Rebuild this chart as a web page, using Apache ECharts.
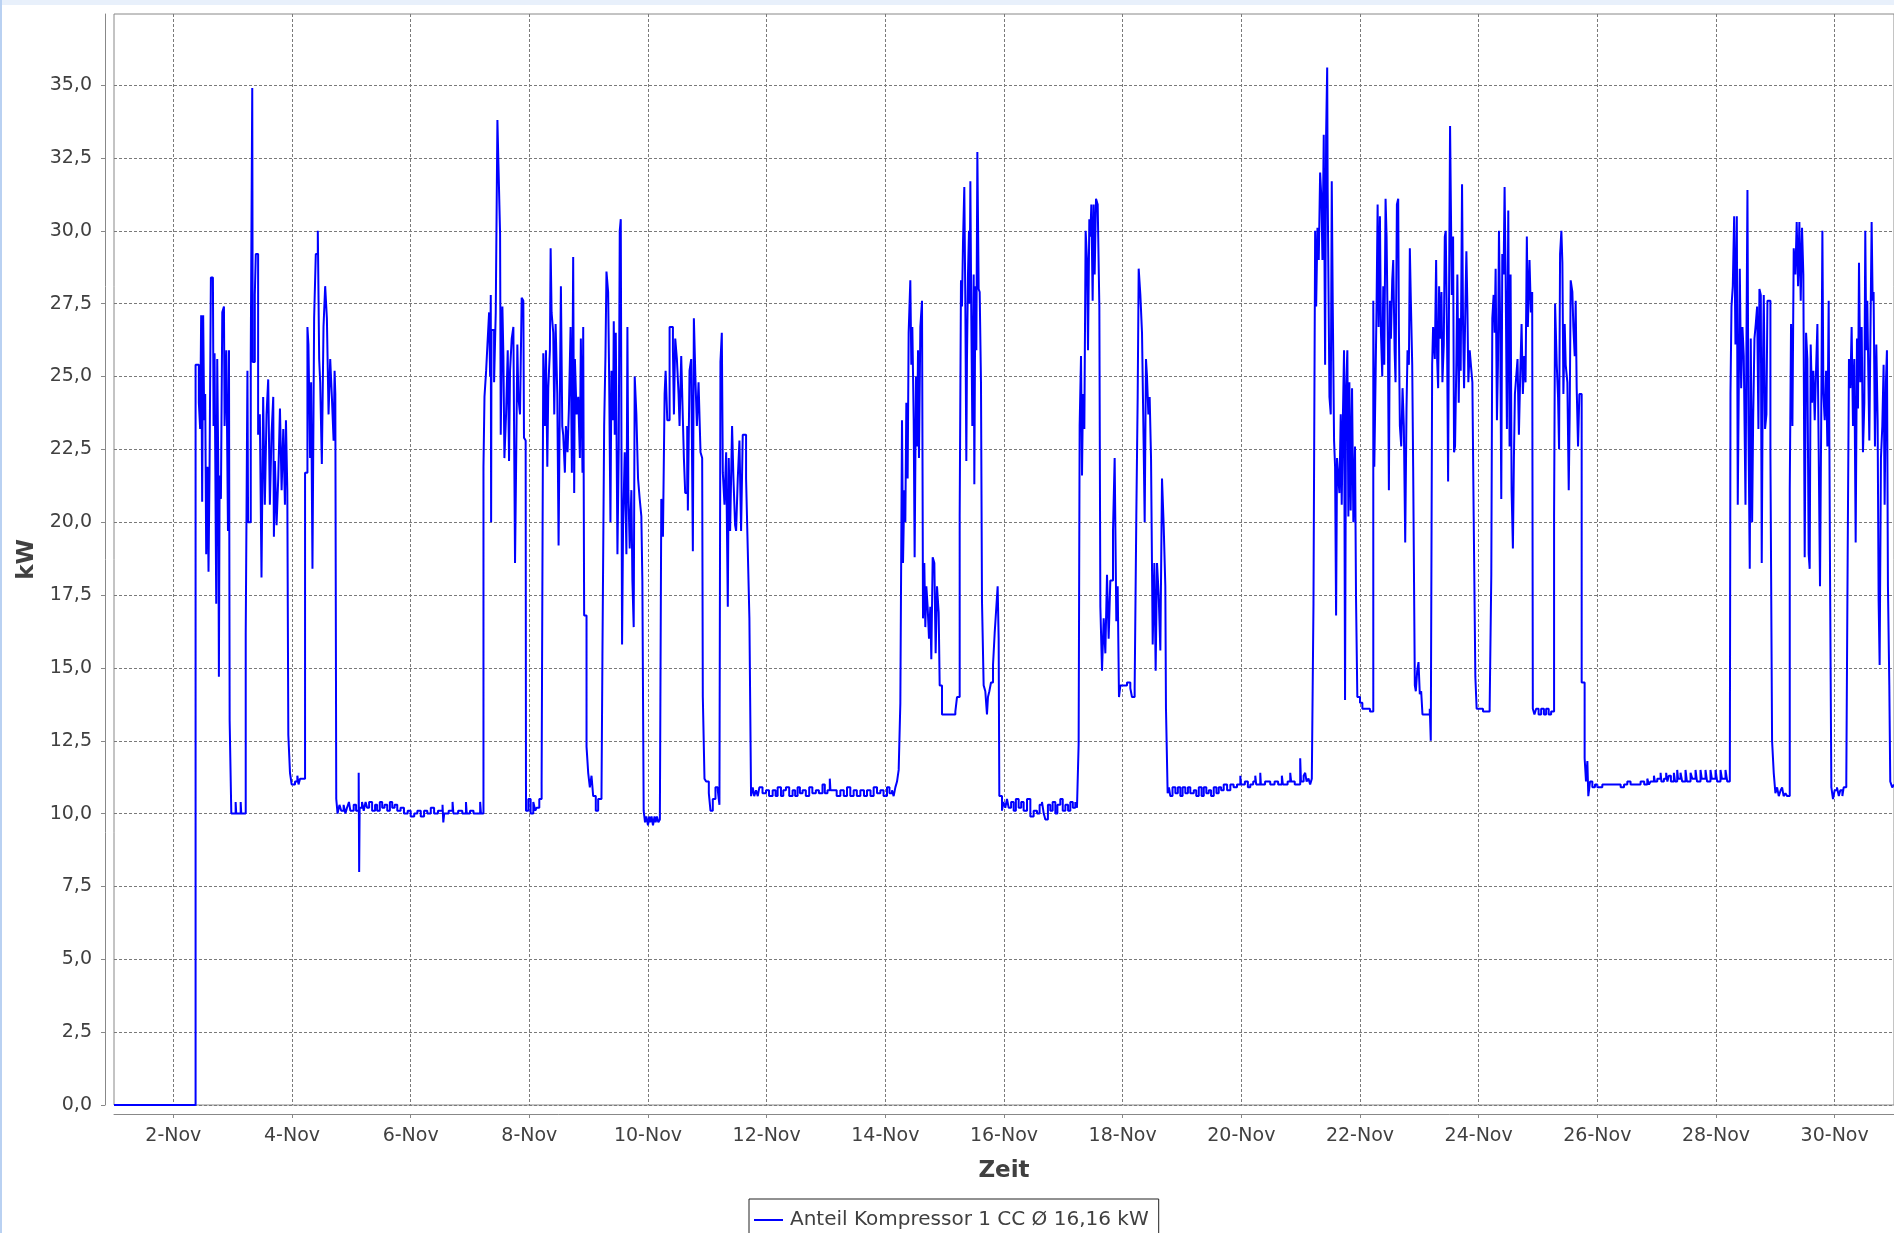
<!DOCTYPE html>
<html><head><meta charset="utf-8">
<script src="https://cdn.jsdelivr.net/npm/echarts@6/dist/echarts.min.js"></script>
<style>
html,body{margin:0;padding:0;background:#fff;overflow:hidden}
#chart{position:absolute;left:0;top:0;width:1894px;height:1233px}
#topband{position:absolute;left:0;top:0;width:1894px;height:5px;background:#e8f0fb}
#leftband{position:absolute;left:0;top:0;width:2px;height:1233px;background:#b9d1f2}
</style></head><body>
<div id="chart"></div>
<div id="topband"></div><div id="leftband"></div>
<script>
// x = day of November (fractional), y = kW
const dayTicks = [2,4,6,8,10,12,14,16,18,20,22,24,26,28,30];
const kwTicks = [0,2.5,5,7.5,10,12.5,15,17.5,20,22.5,25,27.5,30,32.5,35];
const seriesName = 'Anteil Kompressor 1 CC Ø 16,16 kW';

const week1 = [[1.000,0],[2.375,25.4],[2.430,24.1],[2.452,23.2],[2.469,27.1],[2.486,20.7],[2.503,27.1],[2.520,23.5],[2.537,24.4],[2.554,18.9],[2.576,21.9],[2.593,18.3],[2.610,21.7],[2.633,28.4],[2.667,28.4],[2.678,23.3],[2.695,25.8],[2.723,17.2],[2.740,25.6],[2.757,22.0],[2.768,14.7],[2.780,21.6],[2.802,20.8],[2.825,27.2],[2.853,27.4],[2.864,23.3],[2.893,25.9],[2.921,19.7],[2.938,25.9],[2.949,13.2],[2.977,10.0],[3.050,10.4],[3.060,10.0],[3.135,10.4],[3.145,10.0],
[3.220,16.2],[3.249,25.2],[3.260,20.0],[3.305,25.8],[3.330,34.9],[3.338,25.5],[3.373,27.8],[3.390,29.2],[3.429,23.0],[3.458,23.7],[3.486,18.1],[3.514,24.3],[3.542,20.6],[3.571,23.7],[3.599,24.9],[3.627,20.6],[3.655,23.0],[3.684,24.3],[3.695,19.5],[3.712,22.1],[3.740,19.9],[3.768,21.5],[3.797,23.9],[3.825,21.1],[3.853,23.2],[3.881,20.6],[3.898,23.5],[3.921,21.1],[3.938,12.7],[3.966,11.4],[3.994,11.0],[4.051,11.1],[4.090,11.3],[4.110,11.0],[4.136,11.2],[4.181,11.2],
[4.220,21.7],[4.260,26.7],[4.277,26.1],[4.305,22.2],[4.322,24.8],[4.345,18.4],[4.373,27.0],[4.401,29.2],[4.435,30.0],[4.458,25.6],[4.475,24.8],[4.503,22.0],[4.531,26.7],[4.559,28.1],[4.588,27.0],[4.616,23.7],[4.644,25.6],[4.672,24.3],[4.701,22.8],[4.718,25.2],[4.730,24.4],[4.746,10.5],[4.768,10.0],[4.800,10.3],[4.830,10.1],[4.870,10.3],[4.900,10.0],[4.927,10.2],[4.960,10.4],[4.983,10.1],[5.040,10.3],[5.080,10.1],[5.124,11.4],[5.132,8.0],[5.140,10.2],[5.180,10.4],[5.209,10.1],[5.240,10.4],[5.266,10.2],[5.300,10.4],[5.350,10.1],[5.400,10.3],[5.435,10.1],[5.480,10.4],[5.520,10.2],[5.560,10.3],[5.605,10.1],[5.650,10.4],[5.689,10.2],[5.730,10.3],[5.774,10.1],[5.830,10.2],[5.887,10.0],[5.950,10.1],[6.000,9.9],[6.060,10.0],[6.113,10.1],[6.170,9.9],[6.226,10.1],[6.280,10.0],[6.339,10.2],[6.395,10.0],[6.460,10.1],[6.537,10.3],[6.550,9.7],[6.565,10.0],[6.640,10.1],[6.706,10.4],[6.720,10.0],[6.800,10.1],[6.870,10.0],[6.932,10.4],[6.945,10.0],[7.000,10.1]];

const week2 = [[7.059,10.0],[7.171,10.4],[7.185,10.0],[7.227,21.9],[7.244,24.3],[7.272,25.2],[7.294,26.1],[7.322,27.2],[7.339,25.0],[7.350,27.8],[7.356,20.0],[7.362,26.6],[7.406,24.8],[7.434,27.2],[7.462,33.8],[7.479,32.3],[7.507,29.9],[7.518,23.0],[7.546,27.4],[7.563,25.7],[7.580,22.2],[7.608,23.7],[7.636,25.9],[7.658,22.1],[7.675,25.2],[7.703,26.3],[7.731,26.7],[7.759,18.6],[7.776,21.7],[7.798,26.1],[7.815,24.3],[7.843,23.7],[7.871,27.7],[7.899,27.6],[7.910,22.9],[7.938,22.8],[7.944,10.1],[7.983,10.5],[8.022,10.0],[8.067,10.4],[8.100,10.1],[8.123,10.2],[8.168,10.5],[8.207,11.0],
[8.235,25.8],[8.263,23.3],[8.280,25.9],[8.303,21.9],[8.319,24.6],[8.347,25.9],[8.359,29.4],[8.375,27.2],[8.403,26.5],[8.420,23.7],[8.443,26.8],[8.471,24.4],[8.493,19.2],[8.515,24.4],[8.532,28.1],[8.555,23.3],[8.571,23.0],[8.599,21.7],[8.616,23.3],[8.644,22.4],[8.667,23.9],[8.695,26.7],[8.717,21.7],[8.739,29.1],[8.756,21.0],[8.768,25.6],[8.796,23.7],[8.824,24.3],[8.852,22.2],[8.868,26.3],[8.896,21.7],[8.908,26.7],[8.924,16.8],[8.964,12.3],[8.992,11.4],[9.020,10.9],[9.048,11.3],[9.076,10.6],[9.120,10.1],[9.160,10.5],[9.216,10.6],
[9.232,15.4],[9.261,23.3],[9.283,25.7],[9.300,28.6],[9.328,27.9],[9.345,25.0],[9.367,20.0],[9.384,25.2],[9.412,23.5],[9.423,26.9],[9.440,23.0],[9.457,26.5],[9.485,18.9],[9.507,22.6],[9.524,30.0],[9.541,30.4],[9.563,15.8],[9.580,19.9],[9.608,22.4],[9.636,18.9],[9.653,26.7],[9.669,21.1],[9.692,19.1],[9.720,21.1],[9.737,18.0],[9.759,16.4],[9.776,25.0],[9.804,23.7],[9.832,21.5],[9.860,20.8],[9.888,20.2],[9.905,18.0],[9.927,10.1],[9.950,9.7],[9.972,9.9],[10.000,9.6],[10.020,9.9],[10.039,9.7],[10.060,9.9],[10.084,9.6],[10.110,9.9],[10.129,9.7],[10.150,9.9],[10.174,9.7],[10.200,9.8],
[10.224,20.8],[10.252,19.5],[10.280,24.4],[10.297,25.2],[10.325,23.5],[10.364,26.7],[10.392,26.7],[10.420,25.9],[10.437,23.7],[10.459,26.3],[10.487,25.6],[10.515,24.4],[10.532,23.3],[10.560,25.7],[10.588,23.5],[10.605,22.2],[10.627,21.0],[10.661,23.3],[10.672,20.4],[10.700,25.2],[10.728,25.6],[10.756,19.0],[10.773,27.0],[10.801,24.8],[10.824,23.3],[10.852,24.8],[10.885,22.4],[10.913,22.2],[10.924,14.0],[10.952,11.2],[10.980,11.1],[11.025,10.7],[11.053,10.1],[11.092,10.5],[11.137,10.9],[11.176,10.8],[11.204,10.3],
[11.221,25.5],[11.244,26.5],[11.261,21.7],[11.289,20.6],[11.317,22.4],[11.345,17.1],[11.361,22.2],[11.384,19.7],[11.417,23.3],[11.440,21.5],[11.468,19.9],[11.485,19.7],[11.513,21.5],[11.541,22.8],[11.569,19.7],[11.597,23.0],[11.625,23.0],[11.653,21.5],[11.681,19.1],[11.709,16.7],[11.737,10.6],[11.765,10.9],[11.790,10.6],[11.821,10.8],[11.850,10.6],[11.877,10.9],[11.930,10.7],[11.989,10.8],[12.040,10.6],[12.101,10.8],[12.150,10.6],[12.185,10.9],[12.241,10.6],[12.280,10.8],[12.325,10.9],[12.380,10.6],[12.437,10.8],[12.480,10.6],[12.521,10.9],[12.560,10.7],[12.605,10.8],[12.660,10.6],[12.717,10.9],[12.770,10.7],[12.829,10.8],[12.880,10.7],[12.941,11.0],[12.980,10.7],[13.025,10.8],[13.064,11.2],[13.075,10.8]];

const week3 = [[13.129,10.8],[13.180,10.6],[13.242,10.8],[13.300,10.6],[13.354,10.9],[13.410,10.6],[13.466,10.8],[13.520,10.6],[13.579,10.8],[13.640,10.6],[13.691,10.8],[13.750,10.6],[13.803,10.9],[13.860,10.7],[13.916,10.8],[13.970,10.6],[14.028,10.9],[14.070,10.7],[14.112,10.8],[14.140,10.6],[14.169,10.9],
[14.197,11.1],[14.225,11.5],[14.253,13.8],[14.281,23.5],[14.298,18.6],[14.320,21.1],[14.337,20.0],[14.354,24.1],[14.376,21.5],[14.393,26.5],[14.421,28.3],[14.438,25.4],[14.455,26.7],[14.478,23.5],[14.494,18.8],[14.517,25.0],[14.534,22.6],[14.551,25.9],[14.567,22.2],[14.590,26.7],[14.618,27.6],[14.635,16.7],[14.657,18.6],[14.674,16.4],[14.691,17.8],[14.713,17.1],[14.736,16.0],[14.758,17.1],[14.775,15.3],[14.798,18.8],[14.826,18.6],[14.848,15.5],[14.871,17.8],[14.899,16.9],[14.916,14.4],[14.955,13.4],[15.067,13.4],[15.180,13.5],[15.208,14.0],
[15.253,20.2],[15.275,28.3],[15.292,27.4],[15.309,29.6],[15.331,31.5],[15.348,27.6],[15.365,22.1],[15.376,25.6],[15.393,28.5],[15.410,30.0],[15.421,27.5],[15.433,31.7],[15.449,27.0],[15.466,23.3],[15.489,28.5],[15.500,21.3],[15.517,28.1],[15.534,25.9],[15.551,32.7],[15.573,28.0],[15.590,27.9],[15.612,24.8],[15.629,17.3],[15.657,14.4],[15.685,14.2],[15.713,13.4],[15.730,14.0],[15.753,14.2],[15.781,14.5],[15.815,15.1],[15.843,16.2],[15.865,16.9],[15.893,17.8],[15.910,16.0],[15.921,10.6],
[15.966,10.1],[15.990,10.4],[16.022,10.2],[16.050,10.5],[16.079,10.2],[16.120,10.4],[16.163,10.1],[16.200,10.5],[16.247,10.2],[16.290,10.4],[16.331,10.1],[16.388,10.5],[16.444,9.9],[16.500,10.1],[16.556,10.0],[16.600,10.3],[16.640,10.4],[16.670,10.0],[16.697,9.8],[16.740,10.3],[16.781,10.1],[16.820,10.4],[16.865,10.0],[16.900,10.3],[16.949,10.5],[16.990,10.1],[17.034,10.3],[17.080,10.1],[17.118,10.4],[17.160,10.2],[17.202,10.4],[17.230,10.2],
[17.258,12.4],[17.275,23.3],[17.298,25.7],[17.315,21.6],[17.331,24.4],[17.354,23.2],[17.376,30.0],[17.399,29.0],[17.416,25.9],[17.438,30.4],[17.455,29.8],[17.472,30.9],[17.494,27.6],[17.511,30.9],[17.528,28.5],[17.551,31.1],[17.579,30.9],[17.607,27.4],[17.624,17.1],[17.652,14.9],[17.680,16.7],[17.708,15.5],[17.736,18.2],[17.764,16.0],[17.792,18.0],[17.837,19.7],[17.865,22.2],[17.893,16.6],[17.916,17.8],[17.938,14.0],[17.961,14.4],[18.017,14.4],[18.073,14.5],[18.129,14.3],[18.157,14.0],[18.202,14.3],
[18.230,20.2],[18.253,24.3],[18.270,28.7],[18.298,27.8],[18.326,26.5],[18.354,22.6],[18.371,20.0],[18.393,25.6],[18.410,25.0],[18.433,23.7],[18.455,24.3],[18.478,22.2],[18.506,15.8],[18.534,18.6],[18.556,14.9],[18.579,18.6],[18.607,17.5],[18.635,15.6],[18.663,21.5],[18.691,19.9],[18.719,17.8],[18.730,13.6],[18.758,10.7],[18.780,10.9],[18.803,10.6],[18.840,10.9],[18.888,10.7],[18.930,10.9],[18.972,10.6],[19.010,10.9],[19.056,10.7],[19.100,10.9],[19.140,10.7]];

const week4 = [[19.199,10.8],[19.240,10.6],[19.283,10.9],[19.330,10.6],[19.367,10.9],[19.410,10.7],[19.451,10.8],[19.490,10.6],[19.535,10.9],[19.580,10.7],[19.619,10.9],[19.660,10.8],[19.703,11.0],[19.760,10.8],[19.815,11.0],[19.870,10.9],[19.927,11.0],[19.983,11.3],[19.995,11.0],[20.060,11.1],[20.110,10.9],[20.151,11.0],[20.200,11.1],[20.235,11.3],[20.250,11.0],[20.319,11.4],[20.330,11.0],[20.400,11.1],[20.487,11.0],[20.560,11.1],[20.620,11.0],[20.683,11.3],[20.700,11.0],[20.780,11.1],[20.824,11.4],[20.840,11.1],[20.900,11.0],[20.992,11.9],[21.005,11.1],[21.050,11.3],[21.076,11.4],[21.100,11.1],[21.132,11.2],[21.160,11.0],[21.188,11.2],
[21.216,17.2],[21.244,30.0],[21.261,27.4],[21.283,30.1],[21.305,29.0],[21.328,32.0],[21.350,31.1],[21.367,29.0],[21.389,33.3],[21.412,25.4],[21.429,33.3],[21.447,35.6],[21.455,31.4],[21.485,24.3],[21.507,23.7],[21.524,31.7],[21.541,27.4],[21.563,22.8],[21.580,21.9],[21.597,16.8],[21.613,22.2],[21.636,21.5],[21.653,21.0],[21.675,23.7],[21.692,20.6],[21.709,23.3],[21.731,25.9],[21.748,13.9],[21.765,24.6],[21.787,25.9],[21.804,20.2],[21.821,24.8],[21.843,20.4],[21.866,24.6],[21.888,20.0],[21.916,22.6],[21.933,17.4],[21.955,14.0],[22.000,13.8],[22.040,13.6],[22.084,13.6],[22.168,13.5],
[22.224,27.6],[22.241,21.9],[22.263,25.0],[22.280,27.6],[22.297,30.9],[22.314,26.7],[22.336,30.5],[22.353,26.5],[22.375,25.0],[22.392,28.1],[22.409,25.4],[22.431,31.1],[22.448,29.8],[22.471,25.9],[22.487,21.1],[22.504,27.6],[22.521,26.3],[22.543,28.3],[22.560,29.0],[22.583,25.9],[22.599,24.8],[22.622,30.9],[22.644,31.1],[22.655,26.7],[22.672,23.3],[22.695,22.6],[22.717,24.6],[22.739,23.3],[22.762,19.3],[22.784,23.9],[22.801,25.9],[22.824,25.4],[22.840,29.4],[22.857,27.6],[22.880,25.4],[22.896,21.9],[22.924,14.4],[22.941,14.2],[22.964,14.9],[22.986,15.2],[23.008,14.1],[23.031,14.2],[23.053,13.4],[23.120,13.4],[23.176,13.6],[23.193,12.5],
[23.216,25.4],[23.232,26.7],[23.261,25.6],[23.283,29.0],[23.300,25.6],[23.317,24.6],[23.333,28.1],[23.350,26.3],[23.373,27.9],[23.389,24.8],[23.412,26.1],[23.429,29.8],[23.445,30.0],[23.468,26.1],[23.485,21.4],[23.501,27.9],[23.518,33.6],[23.547,27.8],[23.569,29.8],[23.585,22.4],[23.602,22.6],[23.625,25.6],[23.641,28.5],[23.664,24.1],[23.681,27.0],[23.697,25.2],[23.720,31.6],[23.737,26.7],[23.754,24.6],[23.776,27.4],[23.793,29.3],[23.810,27.4],[23.826,24.8],[23.849,25.9],[23.877,25.2],[23.894,24.8],[23.916,20.2],[23.944,14.7],[23.966,13.6],[24.073,13.5],[24.185,13.6],
[24.213,18.2],[24.230,27.0],[24.252,27.8],[24.269,26.5],[24.286,28.7],[24.308,23.5],[24.325,25.4],[24.342,30.0],[24.364,26.5],[24.381,20.8],[24.398,29.2],[24.420,28.5],[24.437,31.5],[24.454,28.5],[24.476,23.2],[24.499,30.7],[24.521,22.6],[24.538,28.5],[24.555,21.1],[24.577,19.1],[24.594,22.2],[24.611,24.4],[24.633,25.0],[24.655,25.6],[24.678,23.0],[24.700,25.0],[24.723,26.8],[24.745,24.4],[24.768,25.7],[24.790,24.8],[24.812,29.8],[24.829,26.7],[24.857,29.0],[24.880,27.2],[24.902,27.9],[24.913,13.6],[24.940,13.4],[24.969,13.6],[25.010,13.4],[25.053,13.6],[25.100,13.4],[25.137,13.6],[25.180,13.4],[25.221,13.5]];

const week5 = [[25.271,20.2],[25.288,27.5],[25.316,25.4],[25.338,24.3],[25.355,22.5],[25.372,29.2],[25.394,30.0],[25.411,28.9],[25.428,24.4],[25.450,26.8],[25.467,25.4],[25.495,24.8],[25.518,21.1],[25.534,23.7],[25.551,28.3],[25.579,27.9],[25.596,26.7],[25.619,25.7],[25.635,27.6],[25.652,24.6],[25.675,22.6],[25.697,24.4],[25.719,24.4],[25.736,14.5],[25.764,14.5],[25.786,11.9],[25.809,11.1],[25.832,11.8],[25.848,10.6],[25.877,11.1],[25.916,10.9],[25.960,11.0],[26.000,10.9],[26.084,11.0],[26.168,11.0],[26.280,11.0],[26.393,10.9],[26.450,11.0],[26.505,11.1],[26.560,11.0],[26.617,11.0],[26.729,11.1],[26.790,11.0],[26.842,11.2],[26.870,11.0],[26.898,11.1],[26.954,11.3],[26.970,11.1],[27.010,11.2],[27.066,11.4],[27.080,11.1],[27.122,11.2],[27.160,11.4],[27.180,11.1],[27.206,11.3],[27.240,11.1],[27.290,11.4],[27.310,11.1],[27.346,11.5],[27.360,11.2],[27.402,11.4],[27.430,11.1],[27.486,11.5],[27.510,11.1],[27.571,11.4],[27.600,11.2],[27.655,11.5],[27.680,11.1],[27.739,11.5],[27.760,11.2],[27.823,11.5],[27.850,11.1],[27.907,11.5],[27.930,11.2],[27.992,11.5],[28.020,11.1],[28.076,11.5],[28.100,11.2],[28.160,11.5],[28.190,11.1],[28.233,11.3],
[28.244,24.4],[28.261,27.4],[28.283,28.1],[28.306,30.5],[28.328,26.1],[28.351,30.5],[28.367,20.6],[28.390,26.1],[28.401,28.7],[28.424,24.6],[28.446,26.7],[28.468,25.7],[28.497,20.6],[28.513,26.1],[28.530,31.4],[28.547,23.3],[28.569,18.4],[28.586,26.3],[28.609,20.0],[28.626,23.5],[28.648,26.3],[28.670,26.8],[28.693,27.4],[28.715,23.2],[28.732,28.0],[28.755,27.8],[28.771,18.6],[28.788,24.8],[28.805,27.8],[28.827,23.2],[28.850,23.7],[28.867,27.6],[28.889,27.6],[28.917,22.4],[28.945,12.5],[28.973,11.4],[29.001,10.7],[29.030,10.9],[29.058,10.6],[29.090,10.8],[29.114,10.9],[29.140,10.6],[29.170,10.7],[29.200,10.6],[29.226,10.6],
[29.243,21.1],[29.265,26.8],[29.288,23.3],[29.310,29.4],[29.338,28.5],[29.360,30.3],[29.383,28.1],[29.405,30.3],[29.428,27.6],[29.450,30.1],[29.472,28.5],[29.495,18.8],[29.518,26.5],[29.540,25.6],[29.562,18.9],[29.579,18.4],[29.596,26.1],[29.619,24.1],[29.641,25.2],[29.664,23.5],[29.686,25.2],[29.709,26.8],[29.731,22.4],[29.753,17.8],[29.776,24.3],[29.793,30.0],[29.810,24.4],[29.832,23.5],[29.855,25.2],[29.877,22.6],[29.899,27.6],[29.922,18.2],[29.944,10.9],[29.972,10.5],[30.000,10.8],[30.039,10.9],[30.070,10.6],[30.095,10.8],[30.130,10.6],[30.152,10.9],[30.196,11.1],
[30.219,18.8],[30.241,25.6],[30.264,24.6],[30.286,26.7],[30.309,23.3],[30.331,25.6],[30.354,19.3],[30.376,26.3],[30.393,23.9],[30.410,28.9],[30.432,24.8],[30.455,26.7],[30.477,22.4],[30.500,24.1],[30.516,30.0],[30.533,25.9],[30.550,27.6],[30.567,25.2],[30.584,22.8],[30.600,25.9],[30.623,30.3],[30.640,27.6],[30.656,27.9],[30.679,22.6],[30.702,26.1],[30.724,23.5],[30.741,17.3],[30.758,15.1],[30.780,22.2],[30.803,23.3],[30.825,25.4],[30.842,20.6],[30.864,24.8],[30.881,25.9],[30.898,17.8],[30.921,14.4],[30.937,11.1],[30.970,10.9],[31.000,11.0]];

const allData = week1.concat(week2, week3, week4, week5);
const axisGrey = '#888888';
const gridGrey = '#7a7a7a';
const textGrey = '#404040';

const chart = echarts.init(document.getElementById('chart'), null, {renderer: 'canvas'});
chart.setOption({
  animation: false,
  backgroundColor: '#ffffff',
  textStyle: {fontFamily: 'DejaVu Sans'},
  grid: {left: 114, top: 14, right: 0, bottom: 128, show: true, borderColor: axisGrey, borderWidth: 1, backgroundColor: '#ffffff'},
  legend: {
    left: 749, top: 1199, icon: 'rect', itemWidth: 29, itemHeight: 2, itemGap: 0,
    padding: [11, 10, 10, 5], borderColor: '#222222', borderWidth: 1, backgroundColor: '#ffffff',
    textStyle: {fontSize: 20, color: textGrey, fontFamily: 'DejaVu Sans', padding: [0, 0, 0, 2]},
    data: [seriesName]
  },
  xAxis: {
    type: 'value', min: 1, max: 31, offset: 9,
    name: 'Zeit', nameLocation: 'middle', nameGap: 46,
    nameTextStyle: {fontSize: 23, fontWeight: 'bold', color: textGrey, fontFamily: 'DejaVu Sans'},
    axisLine: {show: true, onZero: false, lineStyle: {color: axisGrey, width: 1}},
    axisTick: {show: true, length: 4, customValues: dayTicks, lineStyle: {color: axisGrey}},
    axisLabel: {customValues: dayTicks, margin: 13, fontSize: 19, color: textGrey, formatter: v => v + '-Nov'},
    splitLine: {show: true, lineStyle: {color: gridGrey, width: 1, type: [3, 2]}}
  },
  yAxis: {
    type: 'value', min: 0, max: 37.44, interval: 2.5, offset: 9,
    name: 'kW', nameLocation: 'middle', nameGap: 61,
    nameTextStyle: {fontSize: 23, fontWeight: 'bold', color: textGrey, fontFamily: 'DejaVu Sans'},
    axisLine: {show: true, lineStyle: {color: axisGrey, width: 1}},
    axisTick: {show: true, length: 4, customValues: kwTicks, lineStyle: {color: axisGrey}},
    axisLabel: {customValues: kwTicks, margin: 13, fontSize: 19, color: textGrey, formatter: v => v.toFixed(1).replace('.', ',')},
    splitLine: {show: true, lineStyle: {color: gridGrey, width: 1, type: [3, 2]}}
  },
  series: [{
    name: seriesName, type: 'line', data: allData, step: 'end', symbol: 'none',
    showSymbol: false, silent: true, clip: true,
    lineStyle: {color: '#0000ff', width: 2}, itemStyle: {color: '#0000ff'}
  }]
});
</script>
</body></html>
